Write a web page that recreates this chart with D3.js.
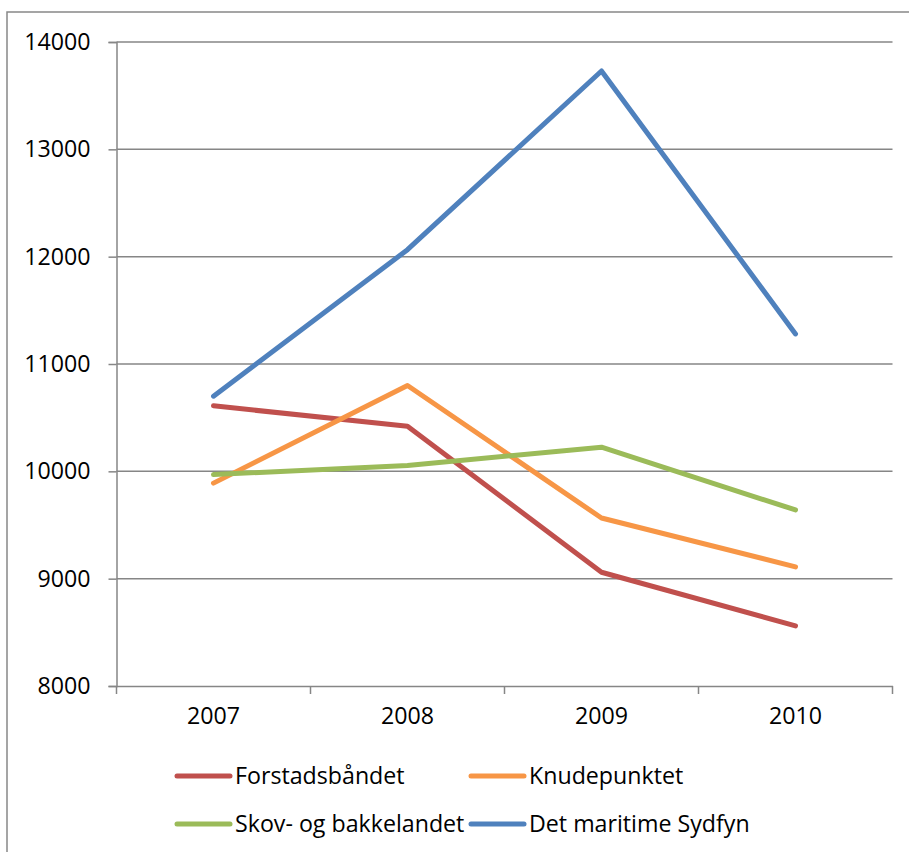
<!DOCTYPE html>
<html><head><meta charset="utf-8">
<script src="https://cdn.jsdelivr.net/npm/d3@7"></script>
<style>body{margin:0;background:#fff}svg text{font-family:"Open Sans",sans-serif;fill:#000}</style>
</head><body>
<svg id="c" width="909" height="852"></svg>
<script>
const categories = ["2007", "2008", "2009", "2010"];
const seriesNames = ["Forstadsbåndet", "Knudepunktet", "Skov- og bakkelandet", "Det maritime Sydfyn"];
const forstadsbaandet = [10610, 10420, 9060, 8560];
const knudepunktet = [9890, 10800, 9565, 9110];
const skovBakkelandet = [9970, 10055, 10225, 9640];
const maritimeSydfyn = [10700, 12065, 13730, 11280];
const yTicks = [8000, 9000, 10000, 11000, 12000, 13000, 14000];
const colors = ["#C0504D", "#F79646", "#9BBB59", "#4F81BD"];

const series = [forstadsbaandet, knudepunktet, skovBakkelandet, maritimeSydfyn];
const svg = d3.select("#c");
const L = 116.5, R = 892.5, T = 42, B = 686;
const FS = 23.2;

// outer frame
svg.append("rect").attr("x", 7).attr("y", 12).attr("width", 960).attr("height", 900)
  .attr("fill", "none").attr("stroke", "#888").attr("stroke-width", 1.5);

const x = d3.scaleBand().domain(categories).range([L, R]);
const y = d3.scaleLinear().domain([8000, 14000]).range([B, T]);

// gridlines
svg.append("g").selectAll("line").data(yTicks.filter(v => v > 8000)).join("line")
  .attr("x1", L).attr("x2", R).attr("y1", d => y(d)).attr("y2", d => y(d))
  .attr("stroke", "#868686").attr("stroke-width", 1.5);

// y axis
const ya = svg.append("g").attr("transform", `translate(${L},0)`)
  .call(d3.axisLeft(y).tickValues(yTicks).tickFormat(d3.format("d")).tickSize(8).tickPadding(18));
ya.select(".domain").attr("stroke", "#868686").attr("stroke-width", 1.5);
ya.selectAll(".tick line").attr("stroke", "#868686").attr("stroke-width", 1.5);
ya.selectAll("text").attr("font-size", FS).attr("font-family", "Open Sans");

// x axis
const xa = svg.append("g").attr("transform", `translate(0,${B})`)
  .call(d3.axisBottom(x).tickSize(0).tickPadding(22));
xa.select(".domain").attr("stroke", "#868686").attr("stroke-width", 1.5);
xa.selectAll("text").attr("font-size", FS).attr("font-family", "Open Sans");
const bounds = [L, ...categories.map(c => x(c) + x.bandwidth())];
xa.selectAll(".bt").data(bounds).join("line").attr("class", "bt")
  .attr("x1", d => d).attr("x2", d => d).attr("y1", 0).attr("y2", 8)
  .attr("stroke", "#868686").attr("stroke-width", 1.5);

// lines
const line = d3.line().x((d, i) => x(categories[i]) + x.bandwidth() / 2).y(d => y(d));
svg.append("g").selectAll("path").data(series).join("path")
  .attr("d", d => line(d)).attr("fill", "none")
  .attr("stroke", (d, i) => colors[i]).attr("stroke-width", 5)
  .attr("stroke-linecap", "round").attr("stroke-linejoin", "round");

// legend
const legPos = [[177, 776], [471, 776], [177, 824], [471, 824]];
const lg = svg.append("g").selectAll("g").data(seriesNames).join("g")
  .attr("transform", (d, i) => `translate(${legPos[i][0]},${legPos[i][1]})`);
lg.append("line").attr("x1", 0).attr("x2", 53).attr("y1", 0).attr("y2", 0)
  .attr("stroke", (d, i) => colors[i]).attr("stroke-width", 5).attr("stroke-linecap", "round");
lg.append("text").attr("x", 58).attr("y", 8).attr("font-size", FS).text(d => d);
</script>
</body></html>
